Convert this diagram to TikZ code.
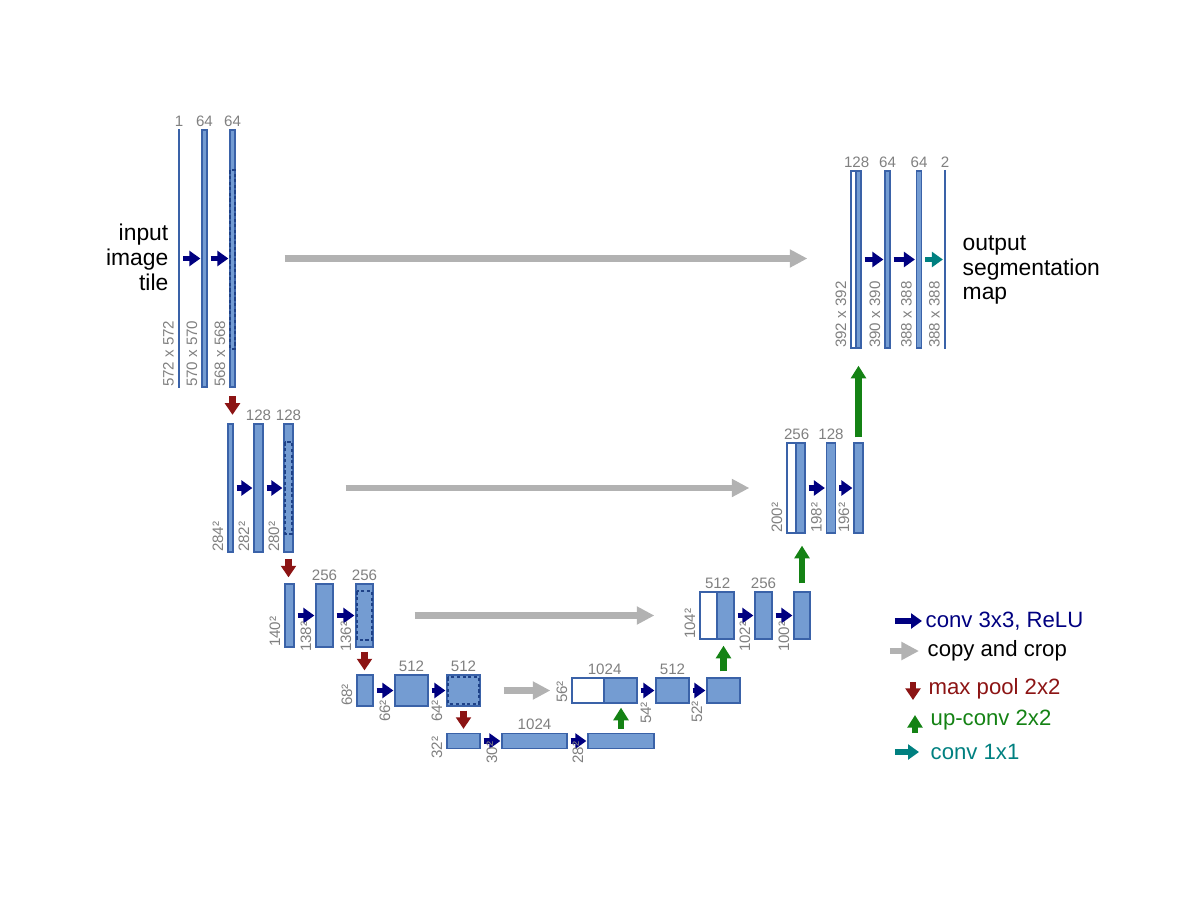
\documentclass[tikz,border=0pt]{standalone}
\usepackage{fontspec}
\setmainfont{Liberation Sans}
\usetikzlibrary{arrows.meta}

\definecolor{blkfill}{RGB}{116,156,210}
\definecolor{blkline}{RGB}{58,98,168}
\definecolor{convc}{RGB}{0,0,128}
\definecolor{copyc}{RGB}{178,178,178}
\definecolor{poolc}{RGB}{140,20,20}
\definecolor{upc}{RGB}{20,130,20}
\definecolor{onec}{RGB}{0,128,128}
\definecolor{labc}{RGB}{128,128,128}
\definecolor{croplc}{RGB}{30,65,135}

\begin{document}
\begin{tikzpicture}[x=0.01cm,y=-0.01cm,
  blk/.style={draw=blkline,line width=0.35pt,fill=blkfill,inner sep=0pt,minimum width=0.05cm},
  wblk/.style={blk,fill=white},
  lvA/.style={minimum height=2.57cm},
  lvB/.style={minimum height=1.28cm},
  lvC/.style={minimum height=0.63cm},
  lvD/.style={minimum height=0.31cm},
  lvE/.style={minimum height=0.15cm},
  upD/.style={minimum height=0.25cm},
  upC/.style={minimum height=0.47cm},
  upB/.style={minimum height=0.90cm},
  upA/.style={minimum height=1.77cm},
  ch/.style={text=labc,font=\fontsize{4.3}{5}\selectfont,anchor=south,inner sep=0.6pt},
  sz/.style={text=labc,font=\fontsize{4.3}{5}\selectfont,rotate=90,anchor=south west,inner xsep=0pt,inner ysep=1pt},
  conv/.style={draw=convc,line width=1.7pt,-{Triangle[length=3.1pt,width=4.2pt]},shorten <=0.03cm,shorten >=0.01cm},
  convone/.style={conv,draw=onec},
  copycrop/.style={draw=copyc,line width=1.9pt,-{Triangle[length=5pt,width=4.9pt]}},
  pool/.style={draw=poolc,line width=1.9pt,-{Triangle[length=3.3pt,width=4.2pt]}},
  upconv/.style={draw=upc,line width=1.9pt,-{Triangle[length=3.6pt,width=4.2pt]}},
  cropbox/.style={draw=croplc,line width=0.55pt,dash pattern=on 0.9pt off 0.7pt},
  txt/.style={font=\fontsize{6.5}{7.1}\selectfont,inner sep=0pt},
  lg/.style={font=\fontsize{6.3}{7}\selectfont,inner sep=0pt,anchor=west}]
  \useasboundingbox (0,0) rectangle (1200,900);

  % contracting path
  \node[blk,lvA,minimum width=0.01cm] (b11) at (179,258.5) {};
  \node[blk,lvA] (b12) at (204.5,258.5) {};
  \node[blk,lvA] (b13) at (232.5,258.5) {};
  \node[blk,lvB] (b21) at (230.5,488) {};
  \node[blk,lvB,minimum width=0.09cm] (b22) at (258.5,488) {};
  \node[blk,lvB,minimum width=0.09cm] (b23) at (288.5,488) {};
  \node[blk,lvC,minimum width=0.09cm] (b31) at (289.5,615.5) {};
  \node[blk,lvC,minimum width=0.17cm] (b32) at (324.5,615.5) {};
  \node[blk,lvC,minimum width=0.17cm] (b33) at (364.5,615.5) {};
  \node[blk,lvD,minimum width=0.16cm] (b41) at (365,690.5) {};
  \node[blk,lvD,minimum width=0.33cm] (b42) at (411.5,690.5) {};
  \node[blk,lvD,minimum width=0.33cm] (b43) at (463.5,690.5) {};
  \node[blk,lvE,minimum width=0.33cm] (b51) at (463.5,741) {};
  \node[blk,lvE,minimum width=0.65cm] (b52) at (534.5,741) {};
  \node[blk,lvE,minimum width=0.66cm] (b53) at (621,741) {};

  % expanding path
  \node[wblk,upD,minimum width=0.32cm] (u41w) at (588,690.5) {};
  \node[blk,upD,minimum width=0.33cm] (u41) at (620.5,690.5) {};
  \node[blk,upD,minimum width=0.33cm] (u42) at (672.5,690.5) {};
  \node[blk,upD,minimum width=0.33cm] (u43) at (723.5,690.5) {};
  \node[wblk,upC,minimum width=0.17cm] (u31w) at (708.5,615.5) {};
  \node[blk,upC,minimum width=0.17cm] (u31) at (725.5,615.5) {};
  \node[blk,upC,minimum width=0.17cm] (u32) at (763.5,615.5) {};
  \node[blk,upC,minimum width=0.16cm] (u33) at (802,615.5) {};
  \node[wblk,upB,minimum width=0.09cm] (u21w) at (791.5,488) {};
  \node[blk,upB,minimum width=0.09cm] (u21) at (800.5,488) {};
  \node[blk,upB,minimum width=0.09cm] (u22) at (831,488) {};
  \node[blk,upB,minimum width=0.09cm] (u23) at (858.5,488) {};
  \node[wblk,upA] (u11w) at (853.5,259.5) {};
  \node[blk,upA] (u11) at (858.5,259.5) {};
  \node[blk,upA] (u12) at (887.5,259.5) {};
  \node[blk,upA] (u13) at (919,259.5) {};
  \node[blk,upA,minimum width=0.01cm] (u14) at (945,259.5) {};

  % crop regions
  \draw[cropbox] ([xshift=0.01cm]b13.west |- u11.north) rectangle ([xshift=-0.01cm]b13.east |- u11.south);
  \draw[cropbox] ([xshift=0.015cm]b23.west |- u21.north) rectangle ([xshift=-0.015cm]b23.east |- u21.south);
  \draw[cropbox] ([xshift=0.02cm]b33.west |- u31.north) rectangle ([xshift=-0.02cm]b33.east |- u31.south);
  \draw[cropbox] ([xshift=0.02cm]b43.west |- u41.north) rectangle ([xshift=-0.02cm]b43.east |- u41.south);

  % channels
  \node[ch] (c11) at (b11.north) {1};
  \node[ch] (c12) at (b12.north) {64};
  \node[ch] (c13) at (b13.north) {64};
  \node[ch] (c22) at (b22.north) {128};
  \node[ch] (c23) at (b23.north) {128};
  \node[ch] (c32) at (b32.north) {256};
  \node[ch] (c33) at (b33.north) {256};
  \node[ch] (c42) at (b42.north) {512};
  \node[ch] (c43) at (b43.north) {512};
  \node[ch] (c52) at (b52.north) {1024};
  \node[ch] (d41) at (u41w.north east) {1024};
  \node[ch] (d42) at (u42.north) {512};
  \node[ch] (d31) at (u31w.north east) {512};
  \node[ch] (d32) at (u32.north) {256};
  \node[ch] (d21) at (u21w.north east) {256};
  \node[ch] (d22) at (u22.north) {128};
  \node[ch] (d11) at (u11w.north east) {128};
  \node[ch] (d12) at (u12.north) {64};
  \node[ch] (d13) at (u13.north) {64};
  \node[ch] (d14) at (u14.north) {2};

  % conv 3x3
  \draw[conv] (b11.east) -- (b12.west); \draw[conv] (b12.east) -- (b13.west);
  \draw[conv] (b21.east) -- (b22.west); \draw[conv] (b22.east) -- (b23.west);
  \draw[conv] (b31.east) -- (b32.west); \draw[conv] (b32.east) -- (b33.west);
  \draw[conv] (b41.east) -- (b42.west); \draw[conv] (b42.east) -- (b43.west);
  \draw[conv] (b51.east) -- (b52.west); \draw[conv] (b52.east) -- (b53.west);
  \draw[conv] (u41.east) -- (u42.west); \draw[conv] (u42.east) -- (u43.west);
  \draw[conv] (u31.east) -- (u32.west); \draw[conv] (u32.east) -- (u33.west);
  \draw[conv] (u21.east) -- (u22.west); \draw[conv] (u22.east) -- (u23.west);
  \draw[conv] (u11.east) -- (u12.west); \draw[conv] (u12.east) -- (u13.west);
  \draw[convone] (u13.east) -- (u14.west);

  % copy and crop
  \draw[copycrop,shorten <=0.49cm,shorten >=0.43cm] (b13.east) -- (b13.east -| u11w.west);
  \draw[copycrop,shorten <=0.52cm,shorten >=0.37cm] (b23.east) -- (b23.east -| u21w.west);
  \draw[copycrop,shorten <=0.41cm,shorten >=0.45cm] (b33.east) -- (b33.east -| u31w.west);
  \draw[copycrop,shorten <=0.23cm,shorten >=0.21cm] (b43.east) -- (b43.east -| u41w.west);

  % max pool
  \draw[pool,shorten <=0.085cm,shorten >=0.085cm] (b13.south) -- (b13.south |- b21.north);
  \draw[pool,shorten <=0.06cm,shorten >=0.06cm] (b23.south) -- (b23.south |- b31.north);
  \draw[pool,shorten <=0.04cm,shorten >=0.04cm] (b33.south) -- (b33.south |- b41.north);
  \draw[pool,shorten <=0.04cm,shorten >=0.04cm] (b43.south) -- (b43.south |- b51.north);

  % up-conv
  \draw[upconv,shorten <=0.04cm,shorten >=0.04cm] (b53.north) -- (b53.north |- u41.south);
  \draw[upconv,shorten <=0.06cm,shorten >=0.06cm] (u43.north) -- (u43.north |- u31.south);
  \draw[upconv,shorten <=0.08cm,shorten >=0.12cm] (u33.north) -- (u33.north |- u21.south);
  \draw[upconv,shorten <=0.05cm,shorten >=0.17cm] (u23.north) -- (u23.north |- u11.south);

  % sizes
  \node[sz] (s11) at (b11.south west) {572 x 572};
  \node[sz] (s12) at (b12.south west) {570 x 570};
  \node[sz] (s13) at (b13.south west) {568 x 568};
  \node[sz] (s21) at (b21.south west) {284²};
  \node[sz] (s22) at (b22.south west) {282²};
  \node[sz] (s23) at (b23.south west) {280²};
  \node[sz] (s31) at (b31.south west) {140²};
  \node[sz] (s32) at ([yshift=-0.05cm]b32.south west) {138²};
  \node[sz] (s33) at ([yshift=-0.05cm]b33.south west) {136²};
  \node[sz] (s41) at (b41.south west) {68²};
  \node[sz] (s42) at ([yshift=-0.16cm]b42.south west) {66²};
  \node[sz] (s43) at ([yshift=-0.16cm]b43.south west) {64²};
  \node[sz] (s51) at ([yshift=-0.10cm]b51.south west) {32²};
  \node[sz] (s52) at ([yshift=-0.15cm]b52.south west) {30²};
  \node[sz] (s53) at ([yshift=-0.15cm]b53.south west) {28²};
  \node[sz] (t41) at (u41w.south west) {56²};
  \node[sz] (t42) at ([yshift=-0.21cm]u42.south west) {54²};
  \node[sz] (t43) at ([yshift=-0.20cm]u43.south west) {52²};
  \node[sz] (t31) at (u31w.south west) {104²};
  \node[sz] (t32) at ([yshift=-0.13cm]u32.south west) {102²};
  \node[sz] (t33) at ([yshift=-0.13cm]u33.south west) {100²};
  \node[sz] (t21) at (u21w.south west) {200²};
  \node[sz] (t22) at (u22.south west) {198²};
  \node[sz] (t23) at (u23.south west) {196²};
  \node[sz] (t11) at (u11w.south west) {392 x 392};
  \node[sz] (t12) at (u12.south west) {390 x 390};
  \node[sz] (t13) at (u13.south west) {388 x 388};
  \node[sz] (t14) at (u14.south west) {388 x 388};

  % input / output
  \node[txt,anchor=east,align=right] (inp) at (169,257) {input\\image\\tile};
  \node[txt,anchor=west,align=left] (outp) at (962,270) {output\\segmentation\\map};

  % legend
  \node[lg,text=convc] (lconv) at (925,621) {conv 3x3, ReLU};
  \draw[conv,shorten <=0pt] ([xshift=-0.3cm]lconv.west) -- ([xshift=-0.02cm]lconv.west);
  \node[lg] (lcopy) at (927,651) {copy and crop};
  \draw[copycrop] ([xshift=-0.37cm]lcopy.west) -- ([xshift=-0.08cm]lcopy.west);
  \node[lg,text=poolc] (lpool) at (928,689) {max pool 2x2};
  \draw[pool] ([xshift=-0.15cm,yshift=0.07cm]lpool.west) -- ([xshift=-0.15cm,yshift=-0.11cm]lpool.west);
  \node[lg,text=upc] (lup) at (930,720) {up-conv 2x2};
  \draw[upconv] ([xshift=-0.15cm,yshift=-0.13cm]lup.west) -- ([xshift=-0.15cm,yshift=0.05cm]lup.west);
  \node[lg,text=onec] (lone) at (930,752) {conv 1x1};
  \draw[convone,shorten <=0pt] ([xshift=-0.35cm]lone.west) -- ([xshift=-0.1cm]lone.west);
\end{tikzpicture}
\end{document}
